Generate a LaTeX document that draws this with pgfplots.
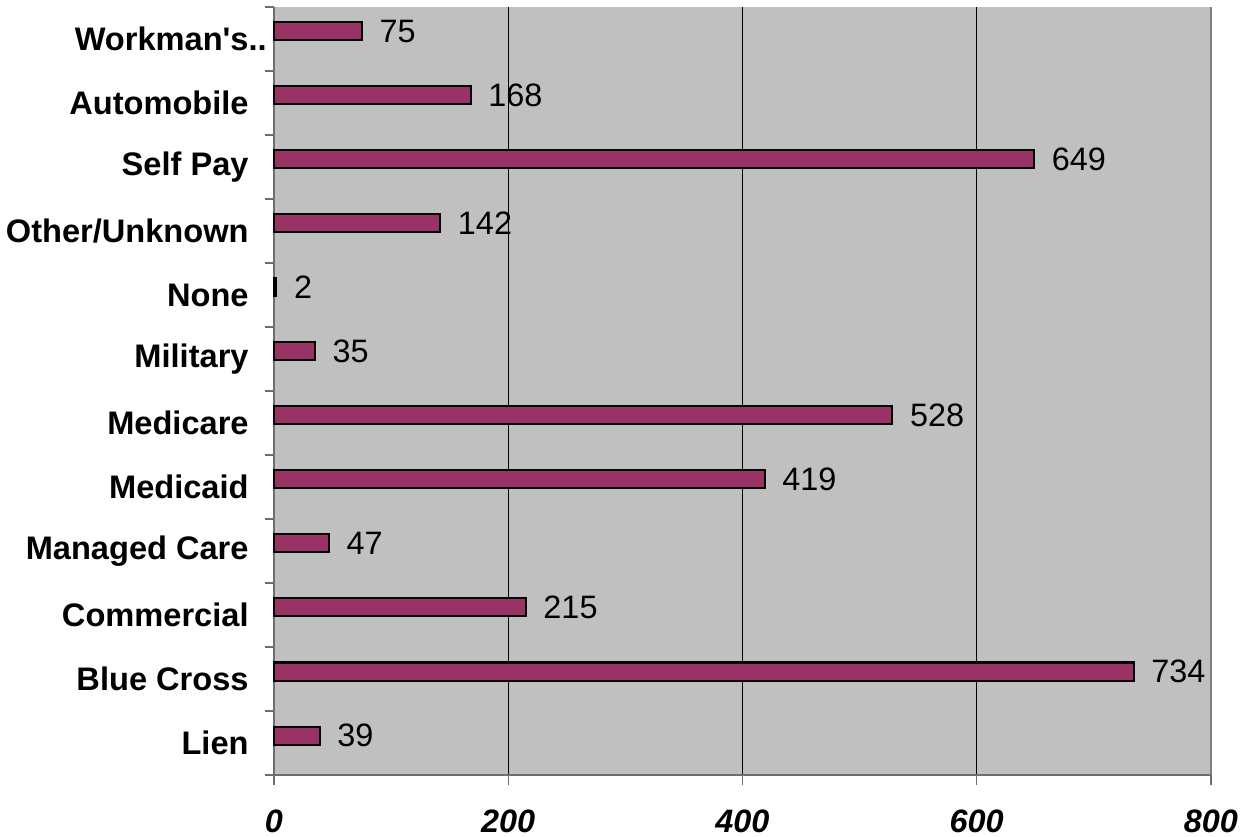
\documentclass[border=0pt]{standalone}
\usepackage{pgfplots}
\pgfplotsset{compat=1.18}
\usepackage{fontspec}
\setmainfont{Liberation Sans}[Ligatures=TeXOff]
\definecolor{barfill}{HTML}{993366}
\definecolor{plotbg}{HTML}{C0C0C0}
\definecolor{axisgray}{HTML}{6E6E6E}
\begin{document}
\begin{tikzpicture}
\begin{axis}[
  name=ax, at={(0,0)}, anchor=south west,
  scale only axis, width=468.5pt, height=384pt,
  xbar, bar width=9pt, bar shift=3.75pt,
  xmin=0, xmax=800, ymin=-0.5, ymax=11.5,
  axis x line*=bottom, axis y line*=left,
  axis line style={axisgray, line width=0.8pt, -},
  axis background/.style={fill=plotbg},
  xtick={0,200,400,600,800},
  xmajorgrids, major x grid style={black, line width=0.6pt},
  ytick={0,...,11},
  yticklabels={Lien,Blue Cross,Commercial,Managed Care,Medicaid,Medicare,Military,None,Other/Unknown,Self Pay,Automobile,{Workman's\rlap{..}}},
  minor ytick={-0.5,0.5,...,11.5},
  tick align=outside,
  major tick length=5pt, minor tick length=4.5pt,
  major y tick style={draw=none},
  every tick/.style={axisgray, line width=0.6pt},
  /pgf/number format/assume math mode=true,
  yticklabel style={font=\fontsize{16.3}{19}\selectfont\bfseries, anchor=east, inner sep=0pt, xshift=-7.5pt},
  xticklabel style={font=\fontsize{16.2}{19}\selectfont\bfseries\itshape, anchor=center, yshift=-18pt},
  nodes near coords,
  nodes near coords style={font=\fontsize{16.2}{19}\selectfont, anchor=west, xshift=5pt, black},
  clip=false,
]
\addplot[fill=barfill, draw=black, line width=1pt] coordinates {
  (39,0) (734,1) (215,2) (47,3) (419,4) (528,5)
  (35,6) (2,7) (142,8) (649,9) (168,10) (75,11)
};
\draw[gray, line width=0.8pt] (rel axis cs:1,0) -- (rel axis cs:1,1);
\end{axis}
\pgfresetboundingbox
\useasboundingbox (-137pt,-30.5pt) rectangle (484.5pt,387.5pt);
\end{tikzpicture}
\end{document}
